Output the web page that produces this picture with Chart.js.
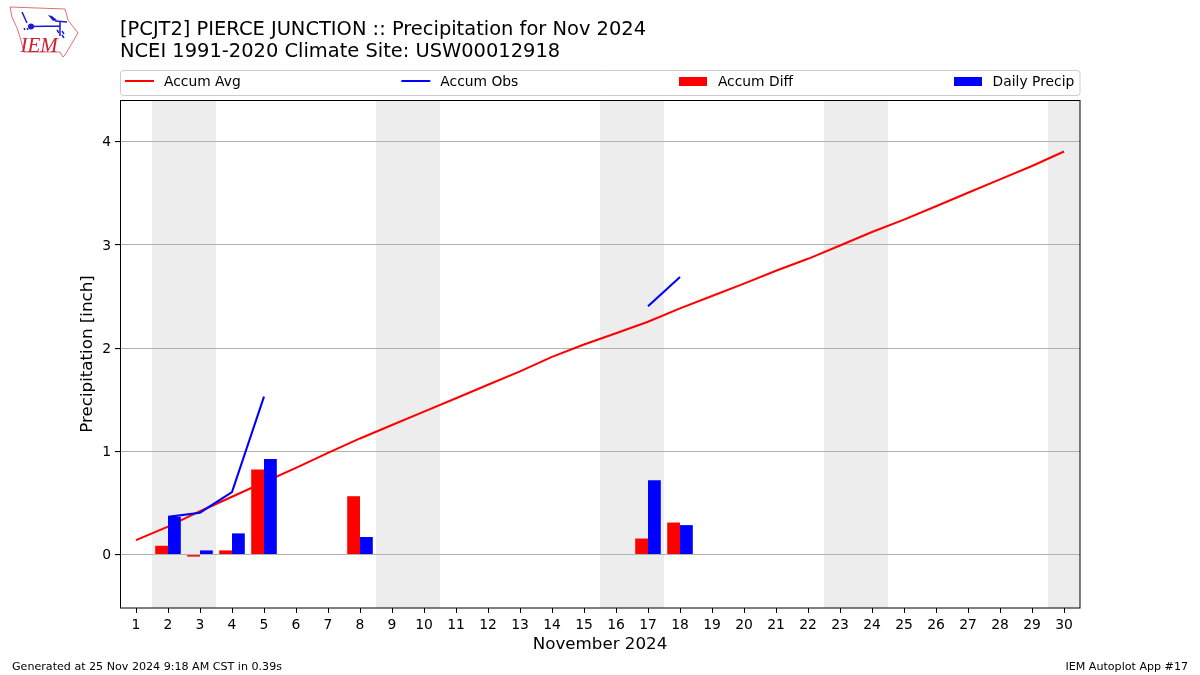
<!DOCTYPE html>
<html>
<head>
<meta charset="utf-8">
<style>
html,body{margin:0;padding:0;background:#fff;width:1200px;height:675px;overflow:hidden}
#wrap{position:relative;width:1200px;height:675px}
canvas{position:absolute;left:0;top:0}
#logo{position:absolute;left:0;top:0}
</style>
<script src="https://cdn.jsdelivr.net/npm/chart.js@4"></script>
</head>
<body>
<div id="wrap">
<canvas id="c" width="1200" height="675"></canvas>
<svg id="logo" width="90" height="62" viewBox="0 0 90 62">
  <path d="M10 7 L65 9 L68 20 L78 33 L72 43 L65 55 L63 57 L60 52 L24 52 L20 37 L17 28 L12 17 Z" fill="#fff" stroke="#e07070" stroke-width="1"/>
  <path d="M31 26.5 L60 26 M60 22 L60 36 M55 21 L67 22 M22 12 L27 23" fill="none" stroke="#1a1ad0" stroke-width="1.5"/>
  <circle cx="31" cy="26.5" r="3" fill="#1a1ad0"/>
  <path d="M48 15 L52 16 L57 20 L53 21 Z" fill="#1a1ad0"/>
  <path d="M57 30 l2 3 M62 31 l2 3 M62 35 l2 3 M24 28 l1 2 M27 28 l1 2" stroke="#1a1ad0" stroke-width="1.4"/>
  <text x="20.5" y="52" font-family="'Liberation Serif',serif" font-style="italic" font-size="21" fill="#d02030">IEM</text>
</svg>
</div>
<script>
const days = ["1","2","3","4","5","6","7","8","9","10","11","12","13","14","15","16","17","18","19","20","21","22","23","24","25","26","27","28","29","30"];
const accumAvg = [0.14,0.27,0.42,0.56,0.70,0.84,0.985,1.125,1.255,1.385,1.515,1.645,1.775,1.915,2.035,2.145,2.255,2.385,2.505,2.625,2.75,2.865,2.995,3.125,3.245,3.375,3.505,3.635,3.765,3.905];
const accumObs = [null,0.365,0.405,0.605,1.53,null,null,1.70,null,null,null,null,null,null,null,null,2.405,2.69,null,null,null,null,null,null,null,null,null,null,null,null];
const accumDiff = [null,0.085,-0.02,0.04,0.825,null,null,0.565,null,null,null,null,null,null,null,null,0.155,0.31,null,null,null,null,null,null,null,null,null,null,null,null];
const dailyPrecip = [null,0.365,0.04,0.205,0.925,null,null,0.17,null,null,null,null,null,null,null,null,0.72,0.285,null,null,null,null,null,null,null,null,null,null,null,null];
const weekendDays = ["2","3","9","10","16","17","23","24","30"];
const yTicks = [0,1,2,3,4];
const titleLines = ["[PCJT2] PIERCE JUNCTION :: Precipitation for Nov 2024","NCEI 1991-2020 Climate Site: USW00012918"];
const footerLeft = "Generated at 25 Nov 2024 9:18 AM CST in 0.39s";
const footerRight = "IEM Autoplot App #17";
const FONT = "'DejaVu Sans', sans-serif";

const decor = {
  id:'decor',
  beforeDraw(chart){
    const {ctx,chartArea:a,scales:{x}} = chart;
    ctx.save();
    ctx.fillStyle='#ffffff';
    ctx.fillRect(0,0,1200,675);
    ctx.fillStyle='#ededed';
    const half = (x.getPixelForValue(1)-x.getPixelForValue(0))/2;
    weekendDays.forEach(d=>{
      const px = x.getPixelForValue(days.indexOf(d));
      ctx.fillRect(px-half,a.top,half*2,a.bottom-a.top);
    });
    ctx.restore();
  },
  afterDraw(chart){
    const {ctx,chartArea:a,data} = chart;
    ctx.save();
    // plot frame
    ctx.strokeStyle='#000'; ctx.lineWidth=1;
    ctx.strokeRect(a.left+0.5,a.top+0.5,a.right-a.left-0.5,a.bottom-a.top-0.5);
    // legend frame
    const lx=120.5, ly=70.5, lw=959.5, lh=25;
    ctx.beginPath(); ctx.roundRect(lx,ly,lw,lh,3);
    ctx.fillStyle='#fff'; ctx.fill();
    ctx.strokeStyle='#cccccc'; ctx.stroke();
    // legend items, equally spaced as an expanded legend
    ctx.font="13.85px "+FONT; ctx.textBaseline='alphabetic'; ctx.textAlign='left';
    const order=[2,3,0,1];
    const sets=order.map(i=>data.datasets[i]);
    const handle=28, tgap=11, start=125, end=1074.3;
    const widths=sets.map(s=>handle+tgap+ctx.measureText(s.label).width);
    const gap=(end-start-widths.reduce((p,c)=>p+c,0))/(sets.length-1);
    let cx=start; const cy=81;
    sets.forEach((s,i)=>{
      if(s.type==='line'){
        ctx.strokeStyle=s.borderColor; ctx.lineWidth=2;
        ctx.beginPath(); ctx.moveTo(cx,cy); ctx.lineTo(cx+handle+1,cy); ctx.stroke();
      } else {
        ctx.fillStyle=s.backgroundColor; ctx.fillRect(Math.round(cx),77,handle,9);
      }
      ctx.fillStyle='#000';
      ctx.fillText(s.label,cx+handle+tgap,85.8);
      cx+=widths[i]+gap;
    });
    // footer
    ctx.font="11.1px "+FONT; ctx.fillStyle='#000'; ctx.textBaseline='alphabetic';
    ctx.fillText(footerLeft,12,670);
    ctx.textAlign='right';
    ctx.fillText(footerRight,1188,670);
    ctx.restore();
  }
};

new Chart(document.getElementById('c'),{
  type:'bar',
  data:{labels:days,datasets:[
    {type:'bar',label:'Accum Diff',data:accumDiff,backgroundColor:'#ff0000',order:2,categoryPercentage:0.8,barPercentage:1},
    {type:'bar',label:'Daily Precip',data:dailyPrecip,backgroundColor:'#0000ff',order:2,categoryPercentage:0.8,barPercentage:1},
    {type:'line',label:'Accum Avg',data:accumAvg,borderColor:'#ff0000',backgroundColor:'#ff0000',borderWidth:2.08,pointRadius:0,tension:0,order:3,spanGaps:false},
    {type:'line',label:'Accum Obs',data:accumObs,borderColor:'#0000ff',backgroundColor:'#0000ff',borderWidth:2.08,pointRadius:0,tension:0,order:1,spanGaps:false}
  ]},
  plugins:[decor],
  options:{
    responsive:false,animation:false,devicePixelRatio:1,
    layout:{padding:{left:0,right:120,top:19,bottom:0}},
    plugins:{
      legend:{display:false},
      tooltip:{enabled:false},
      title:{display:true,text:titleLines,align:'start',fullSize:false,color:'#000',
        font:{family:FONT,size:19.45,weight:'normal',lineHeight:1.12},padding:{top:0,bottom:37.43}}
    },
    scales:{
      x:{type:'category',offset:true,
        grid:{display:true,drawOnChartArea:false,drawTicks:true,tickLength:5,tickColor:'#000',offset:false},
        border:{display:false},
        ticks:{color:'#000',font:{family:FONT,size:13.9},autoSkip:false,maxRotation:0,minRotation:0,padding:4},
        title:{display:true,text:'November 2024',color:'#000',font:{family:FONT,size:16.7},padding:{top:2,bottom:20}},
        afterFit(s){s.height=67;}
      },
      y:{type:'linear',min:-0.518,max:4.404,
        grid:{color:'#b0b0b0',lineWidth:1.1,tickColor:'#000',tickLength:5},
        border:{display:false},
        ticks:{color:'#000',font:{family:FONT,size:13.9},includeBounds:false,padding:4,labelOffset:1},
        afterBuildTicks(s){s.ticks=yTicks.map(v=>({value:v}));},
        title:{display:true,text:'Precipitation [inch]',color:'#000',font:{family:FONT,size:16.7},padding:{top:78,bottom:8}},
        afterFit(s){s.width=120;}
      }
    }
  }
});
</script>
</body>
</html>
